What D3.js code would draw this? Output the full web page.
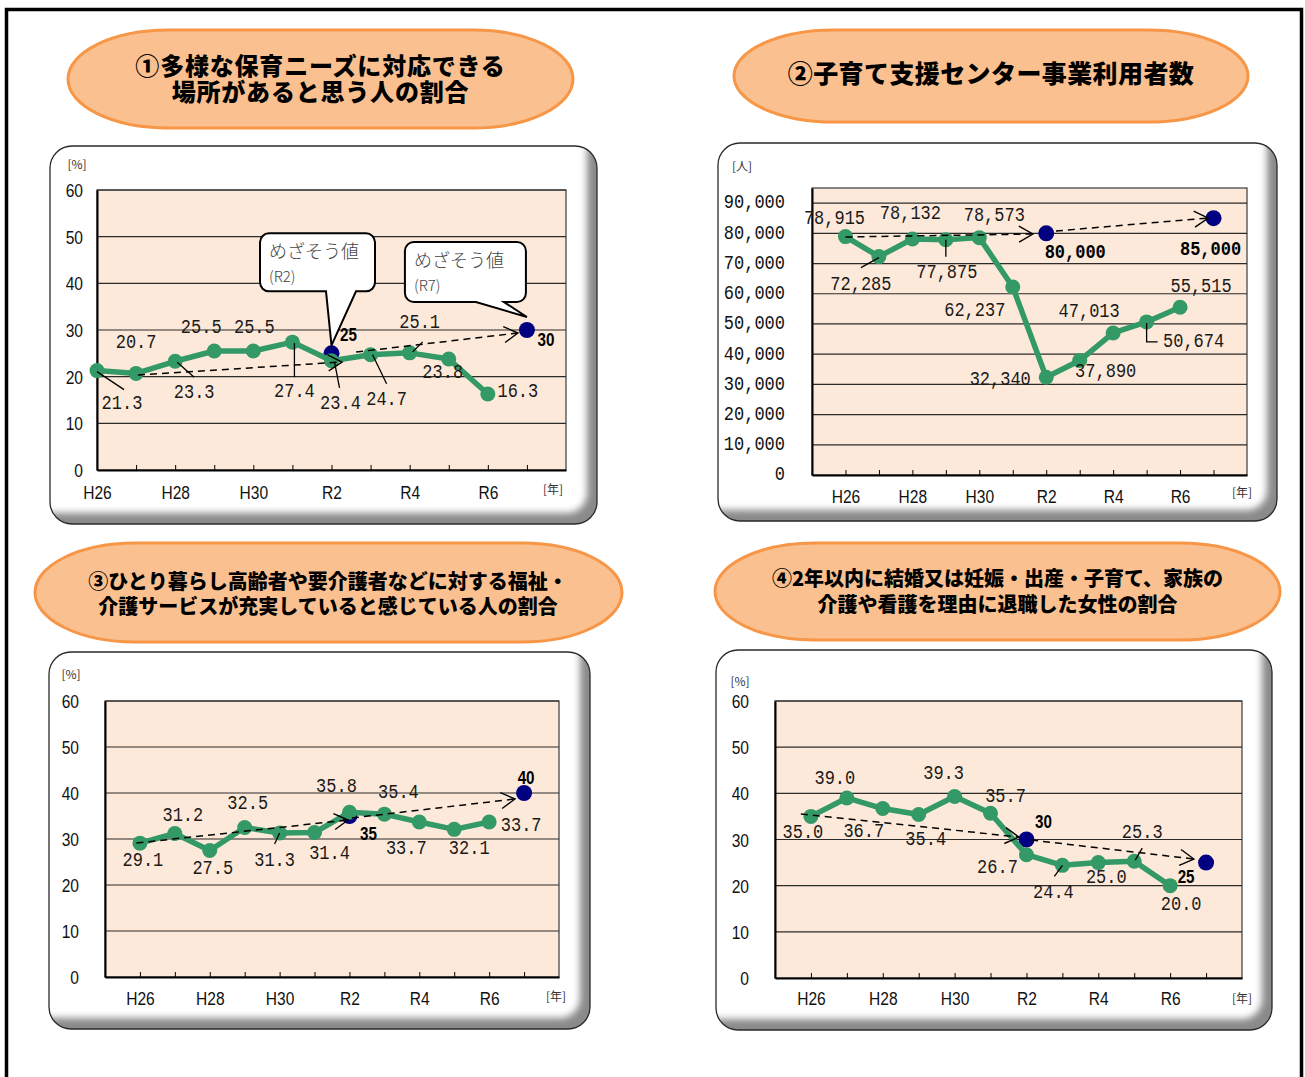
<!DOCTYPE html>
<html>
<head>
<meta charset="utf-8">
<script src="https://cdn.jsdelivr.net/npm/d3@7"></script>
<style>
  body { margin: 0; background: #fff; }
  svg { display: block; }
</style>
</head>
<body>
<svg id="board" width="1305" height="1077"></svg>
<script>
// ---- data ----
const years = ["H26", "H27", "H28", "H29", "H30", "R1", "R2", "R3", "R4", "R5", "R6", "R7"];
const labelledYears = ["H26", "H28", "H30", "R2", "R4", "R6"];
const targetYears = ["R2", "R7"];
const pctTicks = [0, 10, 20, 30, 40, 50, 60];
const userTicks = [0, 10000, 20000, 30000, 40000, 50000, 60000, 70000, 80000, 90000];

const nurseryShare = [21.3, 20.7, 23.3, 25.5, 25.5, 27.4, 23.4, 24.7, 25.1, 23.8, 16.3];
const nurseryTargets = [25, 30];
const centerUsers = [78915, 72285, 78132, 77875, 78573, 62237, 32340, 37890, 47013, 50674, 55515];
const centerTargets = [80000, 85000];
const careShare = [29.1, 31.2, 27.5, 32.5, 31.3, 31.4, 35.8, 35.4, 33.7, 32.1, 33.7];
const careTargets = [35, 40];
const leaveShare = [35.0, 39.0, 36.7, 35.4, 39.3, 35.7, 26.7, 24.4, 25.0, 25.3, 20.0];
const leaveTargets = [30, 25];

const titles = [
  ["①多様な保育ニーズに対応できる", "場所があると思う人の割合"],
  ["②子育て支援センター事業利用者数"],
  ["③ひとり暮らし高齢者や要介護者などに対する福祉・", "介護サービスが充実していると感じている人の割合"],
  ["④2年以内に結婚又は妊娠・出産・子育て、家族の", "介護や看護を理由に退職した女性の割合"]
];
const goalText = "めざそう値";

// ---- styles ----
const GREEN = "#339966", NAVY = "#000080", PLOT_BG = "#FDE9D9";
const MONO = "'Liberation Mono', 'DejaVu Sans Mono', monospace";
const SANS = "'Liberation Sans', Arial, sans-serif";
const JP = "'Noto Sans CJK JP', 'Noto Sans', sans-serif";

const svg = d3.select("#board");
const defs = svg.append("defs");
defs.append("filter").attr("id", "soft")
  .attr("x", "-20%").attr("y", "-20%").attr("width", "140%").attr("height", "140%")
  .append("feGaussianBlur").attr("stdDeviation", 3.5);

// outer frame (open at the bottom)
svg.append("path")
  .attr("d", "M6.5,1077 V9.5 H1301.5 V1077")
  .attr("fill", "none").attr("stroke", "#000").attr("stroke-width", 3.5);

function squeezeText(g, x, y, str, o) {
  return g.append("text")
    .attr("transform", `translate(${x},${y}) scale(${o.sx || 1},1)`)
    .attr("text-anchor", o.anchor || "middle")
    .attr("dominant-baseline", "central")
    .attr("font-family", o.font)
    .attr("font-size", o.size)
    .attr("font-weight", o.weight || 400)
    .attr("letter-spacing", o.spacing || 0)
    .attr("fill", o.fill || "#1a1a1a")
    .text(str);
}

function drawPanel(p, id) {
  defs.append("clipPath").attr("id", id).append("rect")
    .attr("x", p.x).attr("y", p.y).attr("width", p.w).attr("height", p.h).attr("rx", 22);
  const g = svg.append("g").attr("clip-path", `url(#${id})`);
  g.append("rect").attr("x", p.x).attr("y", p.y).attr("width", p.w).attr("height", p.h).attr("fill", "#8a8a8a");
  g.append("rect")
    .attr("x", p.x - 30).attr("y", p.y - 30)
    .attr("width", p.w + 30 - 10).attr("height", p.h + 30 - 11)
    .attr("rx", 20).attr("fill", "#fff").attr("filter", "url(#soft)");
  svg.append("rect").attr("x", p.x).attr("y", p.y).attr("width", p.w).attr("height", p.h)
    .attr("rx", 22).attr("fill", "none").attr("stroke", "#2a2a2a").attr("stroke-width", 1.3);
}

function drawTitle(t, lines) {
  const g = svg.append("g");
  g.append("rect").attr("x", t.x).attr("y", t.y).attr("width", t.w).attr("height", t.h)
    .attr("rx", 100).attr("ry", t.h / 2)
    .attr("fill", "#FAC090").attr("stroke", "#F79646").attr("stroke-width", 3);
  // one text block, one tspan per line (tight leading)
  const txt = g.append("text")
    .attr("text-anchor", "middle")
    .attr("dominant-baseline", "central")
    .attr("font-family", JP).attr("font-size", t.size).attr("font-weight", 900)
    .attr("letter-spacing", t.spacing || 0)
    .attr("fill", "#000");
  lines.forEach((ln, k) => {
    txt.append("tspan").attr("x", t.cx).attr("y", t.lineY[k]).text(ln);
  });
}

function arrowPath(x0, y0, x1, y1) {
  const a = Math.atan2(y1 - y0, x1 - x0), L = 16, h = Math.PI / 6;
  const p1 = [x1 - L * Math.cos(a - h), y1 - L * Math.sin(a - h)];
  const p2 = [x1 - L * Math.cos(a + h), y1 - L * Math.sin(a + h)];
  return `M${p1[0]},${p1[1]} L${x1},${y1} L${p2[0]},${p2[1]}`;
}

function calloutPath(c, tx, ty) {
  const x = tx + c.dx, y = ty + c.dy, w = c.w, h = c.h, r = 9;
  const b1 = tx + c.base[0], b2 = tx + c.base[1];
  const tipX = tx + c.tip[0], tipY = ty + c.tip[1];
  return `M${x + r},${y} H${x + w - r} A${r},${r} 0 0 1 ${x + w},${y + r} V${y + h - r}` +
    ` A${r},${r} 0 0 1 ${x + w - r},${y + h} H${b2} L${tipX},${tipY} L${b1},${y + h}` +
    ` H${x + r} A${r},${r} 0 0 1 ${x},${y + h - r} V${y + r} A${r},${r} 0 0 1 ${x + r},${y} Z`;
}

function drawChart(c) {
  drawPanel(c.panel, c.id);
  drawTitle(c.title, c.titleLines);

  const P = c.plot;
  const g = svg.append("g");
  const x = d3.scaleLinear().domain(c.xDomain).range([P.x0, P.x1]);
  const y = d3.scaleLinear().domain([0, c.yMax]).range([P.y1, P.y0]);

  g.append("rect").attr("x", P.x0).attr("y", P.y0)
    .attr("width", P.x1 - P.x0).attr("height", P.y1 - P.y0)
    .attr("fill", PLOT_BG).attr("stroke", "#3a3a3a").attr("stroke-width", 1.2);

  g.append("g").selectAll("line").data(c.yTicks.filter(d => d > 0)).join("line")
    .attr("x1", P.x0).attr("x2", P.x1)
    .attr("y1", d => y(d)).attr("y2", d => y(d))
    .attr("stroke", "#2b2b2b").attr("stroke-width", 1.2);

  // y axis
  const yg = g.append("g").attr("transform", `translate(${P.x0},0)`)
    .call(d3.axisLeft(y).tickValues(c.yTicks).tickSize(0).tickFormat(c.yFmt));
  yg.select(".domain").attr("stroke", "#000").attr("stroke-width", 2);
  yg.selectAll(".tick text")
    .attr("x", null).attr("dy", null)
    .attr("dominant-baseline", "central")
    .attr("transform", `translate(${-c.yPad},0) scale(${c.yTickFont.sx},1)`)
    .attr("font-family", c.yTickFont.font).attr("font-size", c.yTickFont.size)
    .attr("fill", "#111");

  // x axis
  const xg = g.append("g").attr("transform", `translate(0,${P.y1})`)
    .call(d3.axisBottom(x).tickValues(d3.range(years.length)).tickSizeInner(-5).tickSizeOuter(0)
      .tickFormat(i => labelledYears.includes(years[i]) ? years[i] : ""));
  xg.select(".domain").attr("stroke", "#000").attr("stroke-width", 2);
  xg.selectAll(".tick line").attr("stroke", "#000").attr("stroke-width", 1);
  xg.selectAll(".tick text")
    .attr("y", null).attr("dy", null)
    .attr("dominant-baseline", "central")
    .attr("transform", `translate(0,${c.xLabelGap}) scale(0.82,1)`)
    .attr("font-family", SANS).attr("font-size", 19).attr("fill", "#111");

  // unit captions
  squeezeText(g, c.unitPos[0], c.unitPos[1], c.unit, { font: JP, size: 12, fill: "#333" });
  squeezeText(g, c.yearPos[0], c.yearPos[1], "[年]", { font: JP, size: 12, fill: "#333" });

  // goal markers
  const goals = c.targets.map((v, k) => ({ i: years.indexOf(targetYears[k]), v }));
  g.append("g").selectAll("circle").data(goals).join("circle")
    .attr("cx", d => x(d.i)).attr("cy", d => y(d.v)).attr("r", 8).attr("fill", NAVY);

  // actual values
  g.append("path").datum(c.values)
    .attr("d", d3.line().x((d, i) => x(i)).y(d => y(d)))
    .attr("fill", "none").attr("stroke", GREEN).attr("stroke-width", 5.5)
    .attr("stroke-linejoin", "round");
  g.append("g").selectAll("circle").data(c.values).join("circle")
    .attr("cx", (d, i) => x(i)).attr("cy", d => y(d)).attr("r", 7.5).attr("fill", GREEN);

  // trend arrows toward the goals
  c.trends.forEach(t => {
    const [i0, v0, i1, v1] = t;
    g.append("line").attr("x1", x(i0)).attr("y1", y(v0)).attr("x2", x(i1)).attr("y2", y(v1))
      .attr("stroke", "#000").attr("stroke-width", 1.5).attr("stroke-dasharray", "7,5");
    g.append("path").attr("d", arrowPath(x(i0), y(v0), x(i1), y(v1)))
      .attr("fill", "none").attr("stroke", "#000").attr("stroke-width", 1.4);
  });

  // leader lines
  Object.entries(c.leaders).forEach(([k, pts]) => {
    const i = +k, px = x(i), py = y(c.values[i]);
    g.append("path")
      .attr("d", d3.line()(pts.map(p => [px + p[0], py + p[1]])))
      .attr("fill", "none").attr("stroke", "#000").attr("stroke-width", 1.3);
  });

  // value labels
  c.values.forEach((v, i) => {
    const [dx, dy] = c.labelOffsets[i];
    squeezeText(g, x(i) + dx, y(v) + dy, c.valFmt(v), { font: MONO, size: 20, sx: 0.85 });
  });
  goals.forEach((d, k) => {
    const [dx, dy] = c.targetOffsets[k];
    squeezeText(g, x(d.i) + dx, y(d.v) + dy, c.goalFmt(d.v), c.goalFont);
  });

  // speech-bubble callouts
  (c.callouts || []).forEach((co, k) => {
    const d = goals[k], tx = x(d.i), ty = y(d.v);
    g.append("path").attr("d", calloutPath(co, tx, ty))
      .attr("fill", "#fff").attr("stroke", "#000").attr("stroke-width", 2);
    squeezeText(g, tx + co.dx + 9, ty + co.dy + 17, goalText, { font: JP, size: 18, weight: 300, fill: "#444", anchor: "start" });
    squeezeText(g, tx + co.dx + 9, ty + co.dy + 42, `(${targetYears[k]})`, { font: JP, size: 15, weight: 300, fill: "#444", anchor: "start" });
  });
}

const pctFmt = d3.format(".1f");
const numFmt = d3.format(",");
const sansTicks = { font: SANS, size: 19, sx: 0.82 };
const monoTicks = { font: MONO, size: 20, sx: 0.85 };
const sansGoal = { font: SANS, size: 19, weight: 700, sx: 0.8, fill: "#000" };
const monoGoal = { font: MONO, size: 20, weight: 700, sx: 0.85, fill: "#000" };

const charts = [
  {
    id: "p1", panel: { x: 50, y: 146, w: 547, h: 378 },
    title: { x: 68, y: 30, w: 505, h: 98, cx: 320.5, lineY: [64, 90], size: 24, spacing: 0.8 },
    titleLines: titles[0],
    plot: { x0: 97, x1: 566, y0: 190, y1: 470 }, xDomain: [0, 12],
    yMax: 60, yTicks: pctTicks, yFmt: d3.format("d"), yPad: 14, yTickFont: sansTicks,
    xLabelGap: 22, unit: "[%]", unitPos: [77, 163], yearPos: [553, 488],
    values: nurseryShare, targets: nurseryTargets, valFmt: pctFmt, goalFmt: d3.format("d"), goalFont: sansGoal,
    labelOffsets: [[25, 34], [0, -30], [19, 32], [-13, -23], [1, -23], [2, 50], [9, 43], [16, 45], [10, -30], [-6, 14], [30, -2]],
    leaders: { 0: [[0, 1], [27, 19]], 2: [[2, 1], [19, 16]], 5: [[2, 1], [2, 35]], 6: [[3, 1], [8, 27]], 7: [[2, 0], [16, 29]], 8: [[3, -1], [13, -11]] },
    targetOffsets: [[17, -19], [19, 9]],
    trends: [[1.05, 20.36, 6.27, 23.14], [6.63, 25.28, 10.77, 29.36]],
    callouts: [
      { dx: -71.5, dy: -120, w: 115, h: 58, base: [-5.5, 24.5], tip: [0, -8] },
      { dx: -122, dy: -88, w: 121, h: 60, base: [-51, -23], tip: [0, -13] }
    ]
  },
  {
    id: "p2", panel: { x: 718, y: 143, w: 559, h: 378 },
    title: { x: 734, y: 30, w: 514, h: 92, cx: 991, lineY: [72], size: 25, spacing: 0.4 },
    titleLines: titles[1],
    plot: { x0: 812, x1: 1247, y0: 188, y1: 475 }, xDomain: [-1, 12],
    yMax: 95000, yTicks: userTicks, yFmt: numFmt, yPad: 27, yTickFont: monoTicks,
    xLabelGap: 21, unit: "[人]", unitPos: [742, 165], yearPos: [1242, 491],
    values: centerUsers, targets: centerTargets, valFmt: numFmt, goalFmt: numFmt, goalFont: monoGoal,
    labelOffsets: [[-11, -17], [-18, 29], [-2, -25], [1, 33], [15, -21], [-38, 24], [-46, 3], [26, 12], [-24, -21], [47, 20], [21, -20]],
    leaders: { 1: [[0, 1], [-18, 11]], 3: [[0, 0], [0, 17]], 9: [[0, 1], [0, 20], [11, 20]] },
    targetOffsets: [[29, 20], [-3, 32]],
    trends: [[0, 78780, 5.6, 79775], [6.29, 80770, 10.84, 85070]]
  },
  {
    id: "p3", panel: { x: 49, y: 652, w: 541, h: 377 },
    title: { x: 35, y: 543, w: 587, h: 99, cx: 328, lineY: [580, 605], size: 20 },
    titleLines: titles[2],
    plot: { x0: 105, x1: 559, y0: 701, y1: 977 }, xDomain: [-1, 12],
    yMax: 60, yTicks: pctTicks, yFmt: d3.format("d"), yPad: 26, yTickFont: sansTicks,
    xLabelGap: 21, unit: "[%]", unitPos: [71, 673], yearPos: [556, 995],
    values: careShare, targets: careTargets, valFmt: pctFmt, goalFmt: d3.format("d"), goalFont: sansGoal,
    labelOffsets: [[3, 18], [8, -17], [3, 19], [3, -23], [-5, 28], [15, 22], [-13, -25], [14, -21], [-13, 27], [15, 20], [32, 4]],
    leaders: { 4: [[0, 0], [-5, 11]] },
    targetOffsets: [[19, 17], [2, -16]],
    trends: [[-0.1, 29.13, 5.96, 34.13], [6.07, 34.57, 10.74, 38.7]]
  },
  {
    id: "p4", panel: { x: 716, y: 650, w: 556, h: 380 },
    title: { x: 715, y: 543, w: 565, h: 97, cx: 997.5, lineY: [577, 603], size: 20 },
    titleLines: titles[3],
    plot: { x0: 775, x1: 1242, y0: 701, y1: 978 }, xDomain: [-1, 12],
    yMax: 60, yTicks: pctTicks, yFmt: d3.format("d"), yPad: 26, yTickFont: sansTicks,
    xLabelGap: 20, unit: "[%]", unitPos: [740, 680], yearPos: [1242, 997],
    values: leaveShare, targets: leaveTargets, valFmt: pctFmt, goalFmt: d3.format("d"), goalFont: sansGoal,
    labelOffsets: [[-8, 17], [-12, -19], [-19, 24], [7, 26], [-11, -22], [15, -16], [-29, 13], [-9, 28], [8, 16], [8, -28], [11, 19]],
    leaders: { 7: [[0, 0], [-8, 11]], 9: [[1, -1], [8, -13]] },
    targetOffsets: [[17, -18], [-20, 14]],
    trends: [[-0.28, 35.52, 5.79, 30.54], [6.13, 29.89, 10.66, 25.77]]
  }
];

charts.forEach(drawChart);
</script>
</body>
</html>
